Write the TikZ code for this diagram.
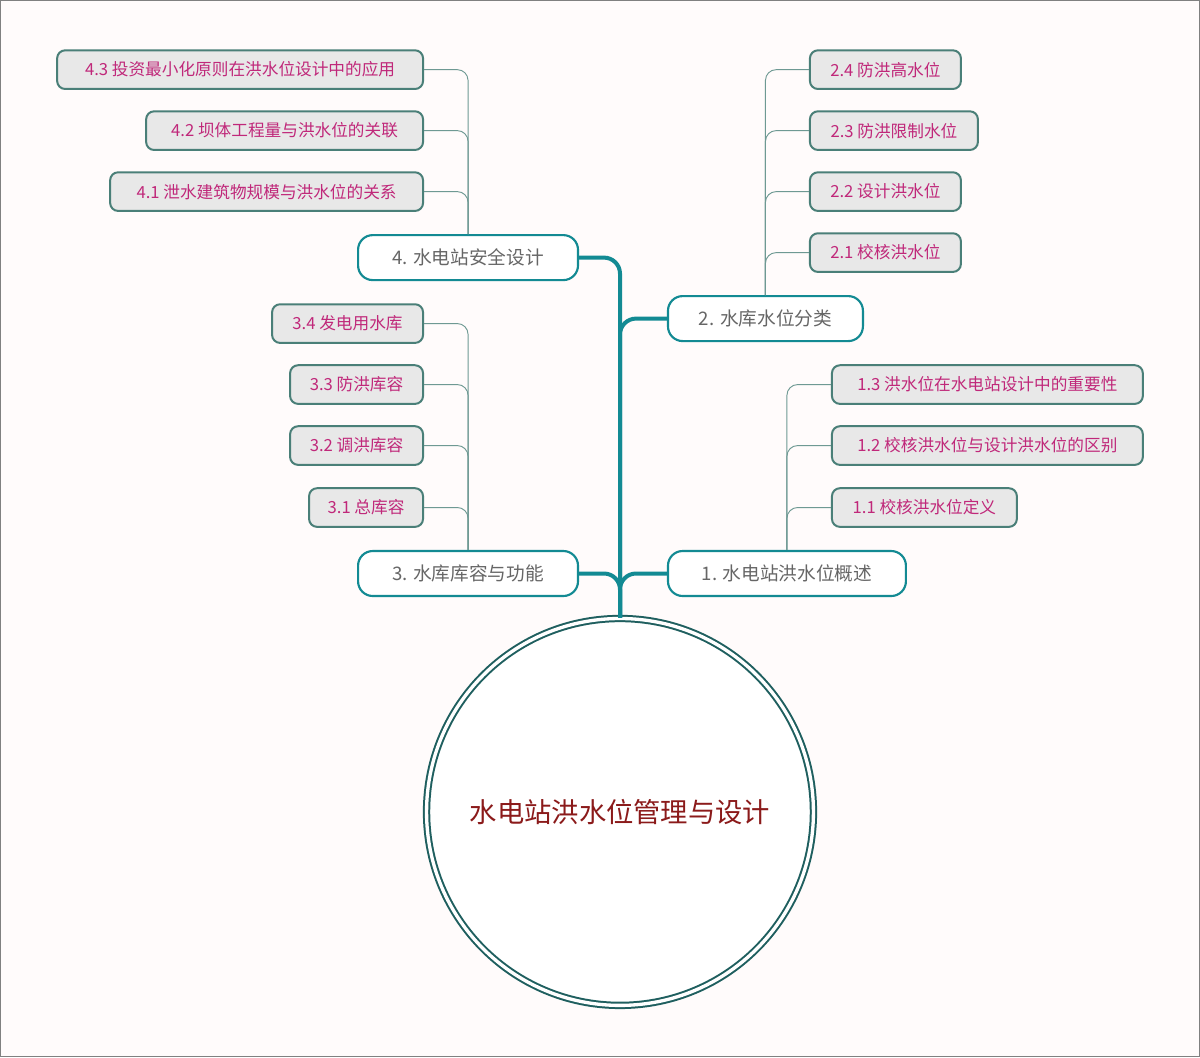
\documentclass[tikz,border=0pt]{standalone}
\usepackage{fontspec}
\setmainfont{Noto Sans CJK SC}
\begin{document}
\begin{tikzpicture}[x=0.75pt,y=-0.75pt,
 l1/.style={draw=teal1,line width=1.6pt,fill=white,rounded corners=11pt,inner sep=0pt,text=gray!80!black,font=\fontsize{14}{16}\selectfont,minimum height=33.75pt},
 l2/.style={draw=teal2,line width=1.5pt,fill=gray!18,rounded corners=6pt,inner sep=0pt,text=mag,font=\fontsize{12.5}{14}\selectfont,minimum height=29pt},
 trunk/.style={draw=teal1,line width=3pt,rounded corners=12pt},
 br/.style={draw=teal2!80,line width=0.7pt,rounded corners=8pt}]
\definecolor{teal1}{HTML}{138A93}
\definecolor{teal2}{HTML}{4A7F78}
\definecolor{mag}{HTML}{C0287A}
\definecolor{dteal}{HTML}{1F5F5F}
\definecolor{dred}{HTML}{8B1A1A}
\fill[pink!6] (0,0) rectangle (1200,1057);
\draw[gray,line width=1pt] (0.5,0.5) rectangle (1199.5,1056.5);
\useasboundingbox (0,0) rectangle (1200,1057);
\node[circle,draw=dteal,line width=1.5pt,double=white,double distance=2.5pt,fill=white,minimum size={387*0.75pt},text=dred,font=\fontsize{20.5}{24}\selectfont] (c) at (620,812) {水电站洪水位管理与设计};
\node[l1,minimum width={220*0.75pt}] (n4) at (468,257.5) {4. 水电站安全设计};
\node[l1,minimum width={195*0.75pt}] (n2) at (765.5,318.5) {2. 水库水位分类};
\node[l1,minimum width={220*0.75pt}] (n3) at (468,573.5) {3. 水库库容与功能};
\node[l1,minimum width={238*0.75pt}] (n1) at (787,573.5) {1. 水电站洪水位概述};
\draw[trunk] (c.north) |- (n4.east);
\draw[trunk] (c.north) |- (n2.west);
\draw[trunk] (c.north) |- (n1.west);
\draw[trunk] (c.north) |- (n3.east);
\node[l2,minimum width={366*0.75pt}] (a43) at (240,69.5) {4.3 投资最小化原则在洪水位设计中的应用};
\node[l2,minimum width={277*0.75pt}] (a42) at (284.5,130.5) {4.2 坝体工程量与洪水位的关联};
\node[l2,minimum width={313*0.75pt}] (a41) at (266.5,191.5) {4.1 泄水建筑物规模与洪水位的关系};
\node[l2,minimum width={151*0.75pt}] (b24) at (885.5,69.5) {2.4 防洪高水位};
\node[l2,minimum width={168*0.75pt}] (b23) at (894,130.5) {2.3 防洪限制水位};
\node[l2,minimum width={151*0.75pt}] (b22) at (885.5,191.5) {2.2 设计洪水位};
\node[l2,minimum width={151*0.75pt}] (b21) at (885.5,252.5) {2.1 校核洪水位};
\node[l2,minimum width={151*0.75pt}] (c34) at (347.5,323.5) {3.4 发电用水库};
\node[l2,minimum width={133*0.75pt}] (c33) at (356.5,384.5) {3.3 防洪库容};
\node[l2,minimum width={133*0.75pt}] (c32) at (356.5,445.5) {3.2 调洪库容};
\node[l2,minimum width={114*0.75pt}] (c31) at (366,507.5) {3.1 总库容};
\node[l2,minimum width={311*0.75pt}] (d13) at (987.5,384.5) {1.3 洪水位在水电站设计中的重要性};
\node[l2,minimum width={311*0.75pt}] (d12) at (987.5,445.5) {1.2 校核洪水位与设计洪水位的区别};
\node[l2,minimum width={185*0.75pt}] (d11) at (924.5,507.5) {1.1 校核洪水位定义};
\foreach \t in {a43,a42,a41} \draw[br] (n4.north) |- (\t.east);
\foreach \t in {b24,b23,b22,b21} \draw[br] (n2.north) |- (\t.west);
\foreach \t in {c34,c33,c32,c31} \draw[br] (n3.north) |- (\t.east);
\foreach \t in {d13,d12,d11} \draw[br] (n1.north) |- (\t.west);
\end{tikzpicture}
\end{document}
